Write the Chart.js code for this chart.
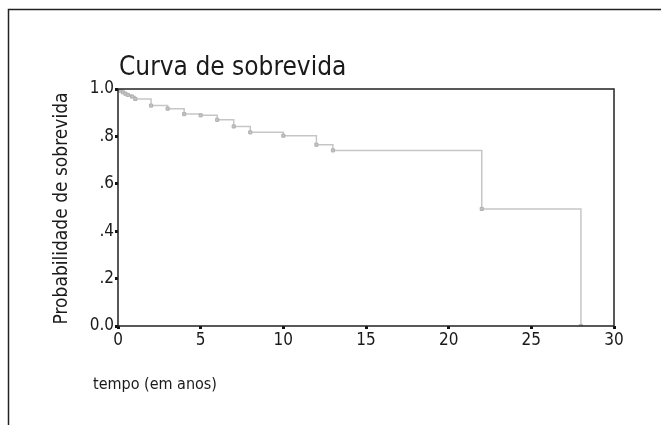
<!DOCTYPE html>
<html>
<head>
<meta charset="utf-8">
<script src="https://cdn.jsdelivr.net/npm/chart.js@4.4.0/dist/chart.umd.min.js"></script>
<style>
  body { margin: 0; background: #fff; }
  #wrap { position: relative; width: 661px; height: 425px; }
</style>
</head>
<body>
<div id="wrap"><canvas id="kmChart" width="661" height="425"></canvas></div>
<script>
// survival curve data (time in years, survival probability)
const tempos = [0, 0.15, 0.3, 0.45, 0.6, 0.85, 1.05, 2, 3, 4, 5, 6, 7, 8, 10, 12, 13, 22, 28];
const sobrevida = [1.0, 0.993, 0.986, 0.98, 0.975, 0.968, 0.958, 0.93, 0.917, 0.894, 0.889, 0.87, 0.842, 0.817, 0.803, 0.765, 0.741, 0.494, 0.0];
const xTicks = [0, 5, 10, 15, 20, 25, 30];
const yTicks = [0, 0.2, 0.4, 0.6, 0.8, 1.0];

const tituloTexto = 'Curva de sobrevida';
const eixoX = 'tempo (em anos)';
const eixoY = 'Probabilidade de sobrevida';

const FONT = '"Liberation Sans Narrow", "DejaVu Sans Condensed", sans-serif';

const points = tempos.map((t, i) => ({ x: t, y: sobrevida[i] }));

function yLabel(v) {
    if (v === 0) return '0.0';
    if (v === 1) return '1.0';
    return '.' + Math.round(v * 10);
}

// frame, plot box, titles
const extras = {
    id: 'extras',
    beforeDraw(chart) {
        const ctx = chart.ctx;
        ctx.save();
        ctx.fillStyle = '#fff';
        ctx.fillRect(0, 0, chart.width, chart.height);
        ctx.strokeStyle = '#222';
        ctx.lineWidth = 1.5;
        ctx.beginPath();
        ctx.moveTo(8.5, 425);
        ctx.lineTo(8.5, 9.5);
        ctx.lineTo(661, 9.5);
        ctx.stroke();
        ctx.restore();
    },
    afterDatasetsDraw(chart) {
        const ctx = chart.ctx;
        const a = chart.chartArea;
        ctx.save();
        ctx.strokeStyle = '#222';
        ctx.lineWidth = 1.5;
        ctx.strokeRect(a.left, a.top, a.right - a.left, a.bottom - a.top);

        ctx.fillStyle = '#1a1a1a';
        ctx.textBaseline = 'alphabetic';
        ctx.textAlign = 'left';
        ctx.font = '26px ' + FONT;
        ctx.fillText(tituloTexto, 119, 75);

        ctx.font = '16px ' + FONT;
        ctx.fillText(eixoX, 93, 389);

        ctx.font = '19px ' + FONT;
        ctx.translate(67, (a.top + a.bottom) / 2 + 1);
        ctx.rotate(-Math.PI / 2);
        ctx.textAlign = 'center';
        ctx.fillText(eixoY, 0, 0);
        ctx.restore();
    }
};

new Chart(document.getElementById('kmChart').getContext('2d'), {
    type: 'line',
    data: {
        datasets: [{
            data: points,
            stepped: true,
            borderColor: '#c6c6c6',
            borderWidth: 1.5,
            pointStyle: 'rect',
            pointRadius: 2.2,
            pointBackgroundColor: '#c4c4c4',
            pointBorderColor: '#b0b0b0',
            pointBorderWidth: 1,
            fill: false
        }]
    },
    options: {
        responsive: false,
        animation: false,
        layout: { padding: { left: 0, top: 89, right: 47, bottom: 0 } },
        plugins: { legend: { display: false }, tooltip: { enabled: false }, title: { display: false } },
        scales: {
            x: {
                type: 'linear',
                min: 0, max: 30,
                afterFit: s => { s.height = 99; },
                afterBuildTicks: s => { s.ticks = xTicks.map(v => ({ value: v })); },
                border: { display: false },
                grid: { drawOnChartArea: false, tickLength: 3, tickWidth: 3, tickColor: '#111' },
                ticks: { color: '#1a1a1a', font: { family: FONT, size: 17 }, padding: 1, maxRotation: 0 }
            },
            y: {
                min: 0, max: 1,
                afterFit: s => { s.width = 118; },
                afterBuildTicks: s => { s.ticks = yTicks.map(v => ({ value: v })); },
                border: { display: false },
                grid: { drawOnChartArea: false, tickLength: 3, tickWidth: 3, tickColor: '#111' },
                ticks: { color: '#1a1a1a', font: { family: FONT, size: 17 }, padding: 1, callback: v => yLabel(v) }
            }
        }
    },
    plugins: [extras]
});
</script>
</body>
</html>
